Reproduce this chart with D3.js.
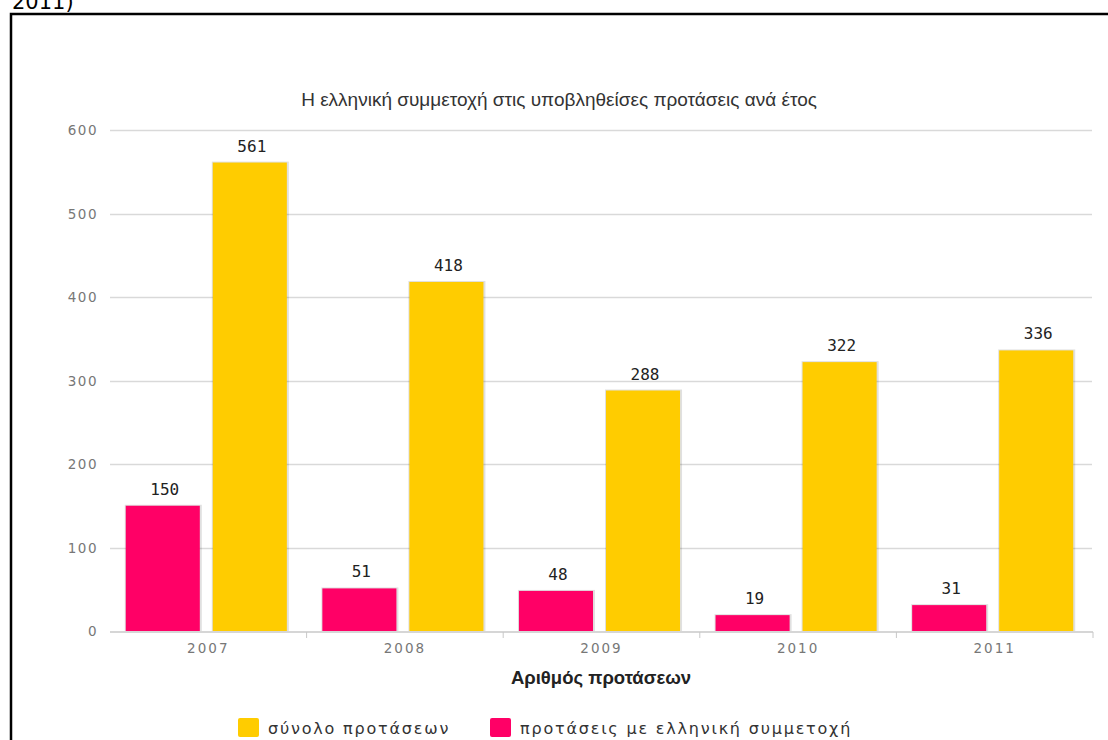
<!DOCTYPE html>
<html>
<head>
<meta charset="utf-8">
<script src="https://cdn.jsdelivr.net/npm/d3@7"></script>
<style>
  html, body { margin: 0; padding: 0; background: #fff; }
  svg { display: block; }
</style>
</head>
<body>
<svg id="chart" width="1108" height="740"></svg>
<script>
const years = ["2007", "2008", "2009", "2010", "2011"];
const totalProposals = [561, 418, 288, 322, 336];
const greekProposals = [150, 51, 48, 19, 31];
const yTicks = [0, 100, 200, 300, 400, 500, 600];
const seriesKeys = ["greek", "total"];
const seriesNames = { total: "σύνολο προτάσεων", greek: "προτάσεις με ελληνική συμμετοχή" };
const seriesColors = { total: "#FFCC00", greek: "#FF0066" };
const legendOrder = ["total", "greek"];
const chartTitle = "Η ελληνική συμμετοχή στις υποβληθείσες προτάσεις ανά έτος";
const xTitle = "Αριθμός προτάσεων";
const headerText = "2011)";

const svg = d3.select("#chart");

// header fragment and frame
svg.append("text").attr("x", 12).attr("y", 9)
  .attr("font-family", "DejaVu Sans, Verdana, sans-serif").attr("font-size", 21)
  .attr("fill", "#000").text(headerText);
svg.append("path").attr("d", "M11,760 V14 H1120")
  .attr("fill", "none").attr("stroke", "#000").attr("stroke-width", 2.5);

const x = d3.scaleBand().domain(years).range([110, 1093]);
const x1 = d3.scaleBand().domain(seriesKeys).range([-2, x.bandwidth() - 2])
  .paddingInner(0.149).paddingOuter(0.204);
const y = d3.scaleLinear().domain([0, 600]).range([631, 130]);

const data = years.map((yr, i) => ({ year: yr, total: totalProposals[i], greek: greekProposals[i] }));

// title
svg.append("text").attr("x", 559).attr("y", 106).attr("text-anchor", "middle")
  .attr("font-family", "Liberation Sans, Arial, sans-serif").attr("font-size", 19)
  .attr("fill", "#333").text(chartTitle);

// grid lines
svg.append("g").selectAll("line").data(yTicks.filter(t => t > 0)).join("line")
  .attr("x1", 110).attr("x2", 1092)
  .attr("y1", d => Math.round(y(d)) + 0.5).attr("y2", d => Math.round(y(d)) + 0.5)
  .attr("stroke", "#d9d9d9").attr("stroke-width", 1.5);

// y labels
svg.append("g").selectAll("text").data(yTicks).join("text")
  .attr("x", 98).attr("y", d => y(d) + 5).attr("text-anchor", "end")
  .attr("font-family", "DejaVu Sans, sans-serif").attr("font-size", 13.5)
  .attr("letter-spacing", 1.5).attr("fill", "#777").text(d => d);

// bars
const groups = svg.append("g").selectAll("g").data(data).join("g")
  .attr("transform", d => `translate(${x(d.year)},0)`);

// shadow
groups.selectAll("rect.shadow").data(d => seriesKeys.map(k => ({ key: k, value: d[k] }))).join("rect")
  .attr("class", "shadow")
  .attr("x", d => x1(d.key) - 1).attr("width", x1.bandwidth() + 3)
  .attr("y", d => y(d.value) - 1).attr("height", d => y(0) - y(d.value) + 1)
  .attr("fill", "#000").attr("opacity", 0.12);

groups.selectAll("rect.bar").data(d => seriesKeys.map(k => ({ key: k, value: d[k] }))).join("rect")
  .attr("class", "bar")
  .attr("x", d => x1(d.key)).attr("width", x1.bandwidth())
  .attr("y", d => y(d.value)).attr("height", d => y(0) - y(d.value))
  .attr("fill", d => seriesColors[d.key]);

// value labels
groups.selectAll("text.val").data(d => seriesKeys.map(k => ({ key: k, value: d[k] }))).join("text")
  .attr("class", "val")
  .attr("x", d => x1(d.key) + x1.bandwidth() / 2 + 2).attr("y", d => y(d.value) - 11)
  .attr("text-anchor", "middle")
  .attr("font-family", "DejaVu Sans Mono, monospace").attr("font-size", 16)
  .attr("fill", "#222").text(d => d.value);

// baseline
svg.append("line").attr("x1", 110).attr("x2", 1093)
  .attr("y1", y(0) + 1).attr("y2", y(0) + 1)
  .attr("stroke", "#c8c8c8").attr("stroke-width", 1.5);

// x ticks at category boundaries
svg.append("g").selectAll("line").data(years.slice(1).concat(["end"])).join("line")
  .attr("x1", d => d === "end" ? 1093 : x(d)).attr("x2", d => d === "end" ? 1093 : x(d))
  .attr("y1", y(0) + 1).attr("y2", y(0) + 7)
  .attr("stroke", "#c8c8c8").attr("stroke-width", 1);

// x labels
svg.append("g").selectAll("text").data(years).join("text")
  .attr("x", d => x(d) + x.bandwidth() / 2).attr("y", 653).attr("text-anchor", "middle")
  .attr("font-family", "DejaVu Sans, sans-serif").attr("font-size", 13.5)
  .attr("letter-spacing", 2).attr("fill", "#777").text(d => d);

// x title
svg.append("text").attr("x", 601).attr("y", 684).attr("text-anchor", "middle")
  .attr("font-family", "Liberation Sans, Arial, sans-serif").attr("font-size", 18.5)
  .attr("font-weight", "bold").attr("fill", "#222").text(xTitle);

// legend
const legendX = [238, 490];
const lg = svg.append("g").selectAll("g").data(legendOrder).join("g")
  .attr("transform", (d, i) => `translate(${legendX[i]},718)`);
lg.append("rect").attr("width", 21).attr("height", 19).attr("rx", 2)
  .attr("fill", d => seriesColors[d]);
lg.append("text").attr("x", 30).attr("y", 16)
  .attr("font-family", "DejaVu Sans, sans-serif").attr("font-size", 16)
  .attr("letter-spacing", 1.8).attr("fill", "#333").text(d => seriesNames[d]);
</script>
</body>
</html>
